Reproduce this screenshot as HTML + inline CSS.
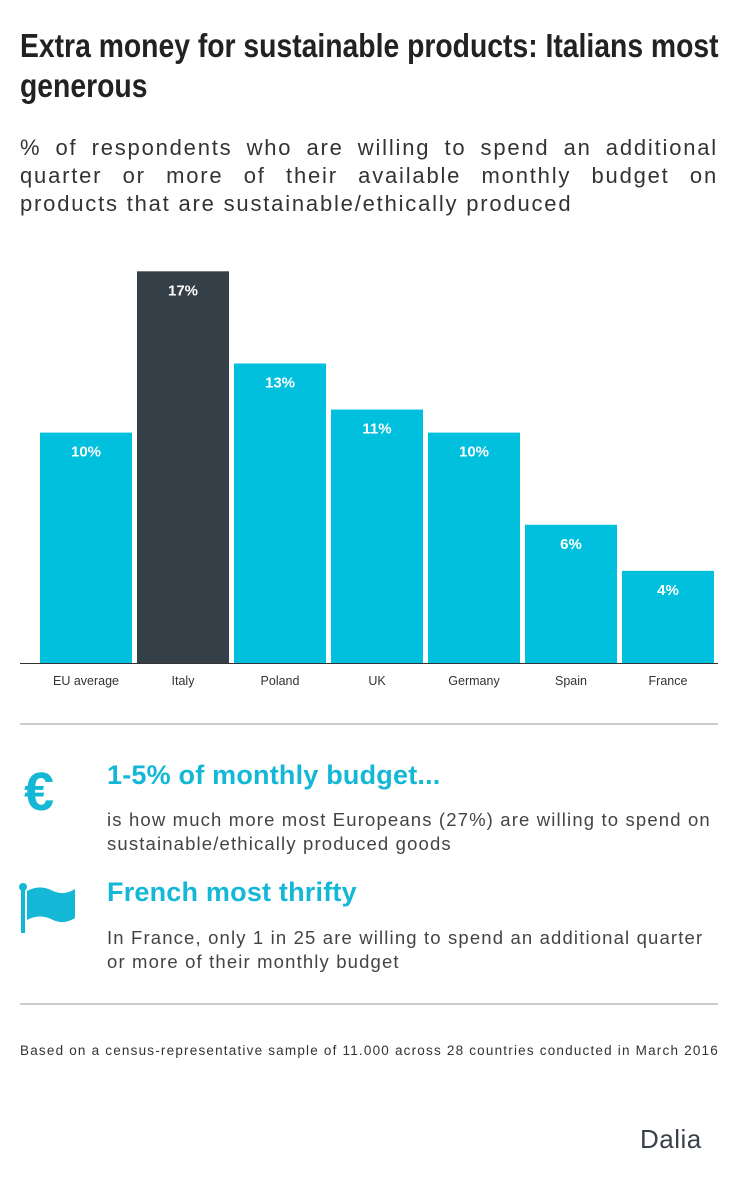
<!DOCTYPE html>
<html><head><meta charset="utf-8"><style>
body{margin:0;width:739px;height:1192px;background:#fff;font-family:"Liberation Sans",sans-serif;position:relative;overflow:hidden;color:#333}
.abs{position:absolute}
#title{left:20px;top:26px;width:820px;font-weight:bold;font-size:33px;line-height:40px;color:#222;transform:scaleX(0.858);transform-origin:left top;white-space:nowrap}
#sub{left:20px;top:134px;width:698px;font-size:22px;line-height:28px;color:#333;letter-spacing:1.8px}
#sub div{text-align:justify;text-align-last:justify;white-space:nowrap}
#sub div.last{text-align-last:left}
.h{font-weight:bold;font-size:27px;color:#14b8d6;letter-spacing:0.2px}
.t{font-size:18.5px;line-height:24px;color:#444;letter-spacing:1.15px;white-space:nowrap}
.hr{left:20px;width:698px;height:2px;background:#ccc}
</style></head><body>
<div id="title" class="abs">Extra money for sustainable products: Italians most<br>generous</div>
<div id="sub" class="abs"><div>% of respondents who are willing to spend an additional</div><div>quarter or more of their available monthly budget on</div><div class="last">products that are sustainable/ethically produced</div></div>
<svg id="chart" class="abs" style="left:0;top:250px" width="739" height="450"></svg>
<div class="abs hr" style="top:723px"></div>
<svg class="abs" style="left:24px;top:766px" width="42" height="50"><text x="0" y="44" font-family="Liberation Sans" font-weight="bold" font-size="54" fill="#14b8d6">€</text></svg>
<div class="abs h" style="left:107px;top:760px">1-5% of monthly budget...</div>
<div class="abs t" style="left:107px;top:808px">is how much more most Europeans (27%) are willing to spend on<br>sustainable/ethically produced goods</div>
<svg class="abs" style="left:18px;top:882px" width="60" height="52"><circle cx="5" cy="5" r="4" fill="#14b8d6"/><rect x="3" y="5" width="4" height="46" fill="#14b8d6"/><path d="M9 9 Q22 2 35 9 Q46 14 57 7 L57 36 Q46 43 35 38 Q22 31 9 38 Z" fill="#14b8d6"/></svg>
<div class="abs h" style="left:107px;top:877px">French most thrifty</div>
<div class="abs t" style="left:107px;top:926px">In France, only 1 in 25 are willing to spend an additional quarter<br>or more of their monthly budget</div>
<div class="abs hr" style="top:1003px"></div>
<div class="abs" style="left:20px;top:1043px;font-size:13.5px;letter-spacing:1.2px;color:#333;white-space:nowrap">Based on a census-representative sample of 11.000 across 28 countries conducted in March 2016</div>
<div class="abs" style="left:640px;top:1124px;font-size:26px;color:#3a4048;letter-spacing:0.5px">Dalia</div>
<script>
const categories=["EU average","Italy","Poland","UK","Germany","Spain","France"];
const values=[10,17,13,11,10,6,4];
const highlight=["Italy"];
const svg=document.getElementById('chart');
const NS="http://www.w3.org/2000/svg";
const base=413, perPct=23.04;
function y(v){return base-v*perPct;}
function x(i){return 40+i*97;}
const bw=92;
const ax=document.createElementNS(NS,'line');


ax.setAttribute('x1',20);ax.setAttribute('x2',718);ax.setAttribute('y1',base+0.5);ax.setAttribute('y2',base+0.5);ax.setAttribute('stroke','#333');ax.setAttribute('stroke-width',1);
categories.forEach((c,i)=>{
 const r=document.createElementNS(NS,'rect');
 
 
 r.setAttribute('x',x(i));r.setAttribute('y',y(values[i]));r.setAttribute('width',bw);r.setAttribute('height',base-y(values[i]));
 r.setAttribute('fill',highlight.includes(c)?'#343f47':'#00c0de');
 svg.appendChild(r);
 const t=document.createElementNS(NS,'text');
 
 
 t.setAttribute('x',x(i)+bw/2);t.setAttribute('y',y(values[i])+24);t.setAttribute('text-anchor','middle');
 t.setAttribute('fill','#fff');t.setAttribute('font-weight','bold');t.setAttribute('font-size','15');t.setAttribute('font-family','Liberation Sans');
 t.textContent=values[i]+'%';svg.appendChild(t);
 const l=document.createElementNS(NS,'text');
 
 
 l.setAttribute('x',x(i)+bw/2);l.setAttribute('y',base+22);l.setAttribute('text-anchor','middle');
 l.setAttribute('fill','#333');l.setAttribute('font-size','12.5');l.setAttribute('font-family','Liberation Sans');
 l.textContent=c;svg.appendChild(l);
});
svg.appendChild(ax);
</script>
</body></html>
